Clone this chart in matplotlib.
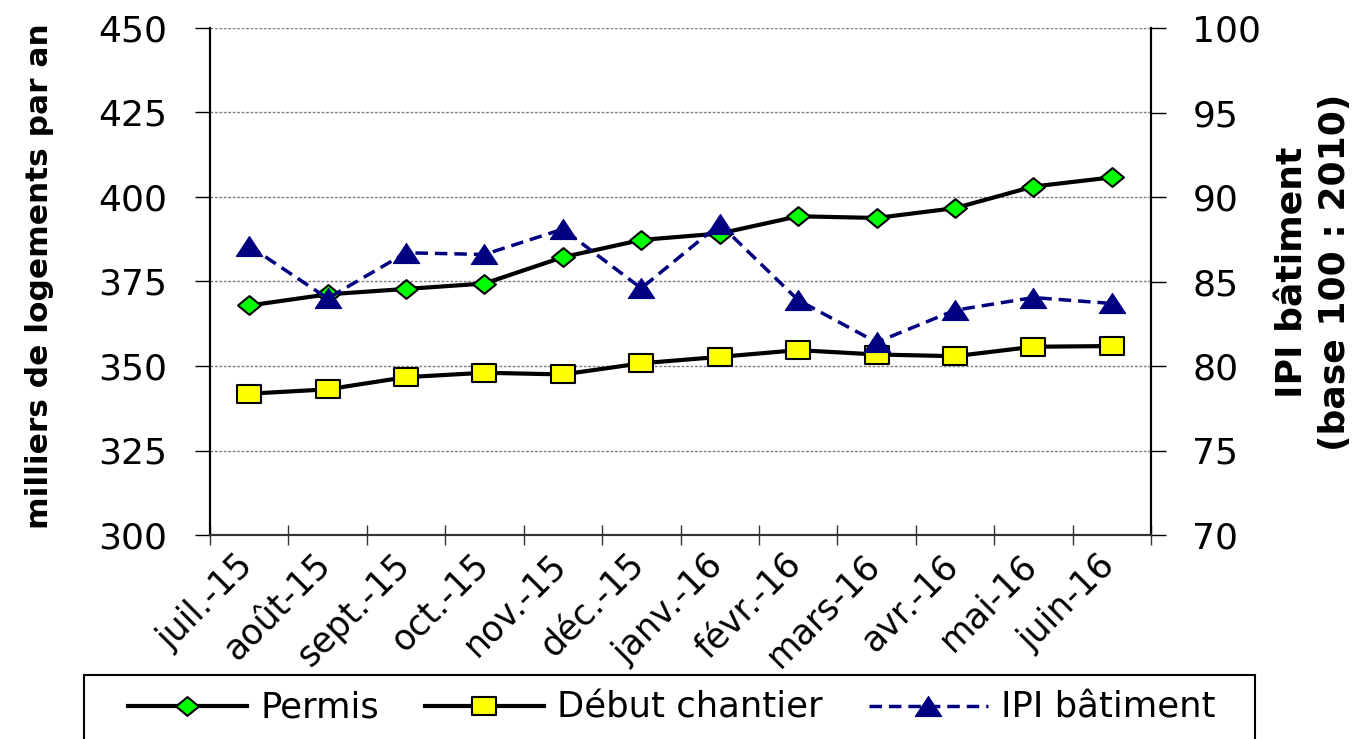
import numpy as np
import matplotlib
matplotlib.use("Agg")
import matplotlib.pyplot as plt
from matplotlib.path import Path
from matplotlib.lines import Line2D
from matplotlib.patches import Rectangle
from matplotlib.transforms import ScaledTranslation

# ---------------- data ----------------
months = ["juil.-15", "août-15", "sept.-15", "oct.-15", "nov.-15", "déc.-15",
          "janv.-16", "févr.-16", "mars-16", "avr.-16", "mai-16", "juin-16"]
permis = [367.9, 371.2, 372.8, 374.4, 382.2, 387.3, 389.2, 394.3, 393.8, 396.7, 403.1, 405.8]
debut_chantier = [341.8, 343.1, 346.7, 348.0, 347.5, 350.8, 352.7, 354.7, 353.4, 352.9, 355.7, 355.9]
ipi_batiment = [87.1, 84.0, 86.7, 86.6, 88.1, 84.6, 88.4, 83.9, 81.4, 83.3, 84.05, 83.7]
left_ticks = [300, 325, 350, 375, 400, 425, 450]
right_ticks = [70, 75, 80, 85, 90, 95, 100]
series_names = ["Permis", "Début chantier", "IPI bâtiment"]

# ---------------- style ----------------
plt.rcParams['font.family'] = ['DejaVu Sans']
W, H = 1369, 739
fig = plt.figure(figsize=(W / 100, H / 100), dpi=100)
ax = fig.add_axes([210 / W, 1 - 535 / H, (1151 - 210) / W, (535 - 28) / H])
ax2 = ax.twinx()

diamond = Path([(0, 0.82), (1, 0), (0, -0.82), (-1, 0), (0, 0.82)], closed=True)
square = Path([(-1, -0.77), (1, -0.77), (1, 0.77), (-1, 0.77), (-1, -0.77)], closed=True)
tri = Path([(0, 0.76), (-1, -0.76), (1, -0.76), (0, 0.76)], closed=True)

x = np.arange(len(months))
st_permis = dict(color='black', lw=3, marker=diamond, ms=16.5, mfc='#00FF00',
                 mec='black', mew=1.5)
st_debut = dict(color='black', lw=3, marker=square, ms=17.5, mfc='#FFFF00',
                mec='black', mew=1.5)
st_ipi = dict(color='#000080', lw=2.5, dashes=(3.6, 2.0), marker=tri, ms=19,
              mfc='#000080', mec='#000080', mew=0.8)

ax.plot(x, permis, zorder=3, **st_permis)
ax.plot(x, debut_chantier, zorder=3, **st_debut)
ax2.plot(x, ipi_batiment, zorder=4, **st_ipi)

ax.set_xlim(-0.5, len(months) - 0.5)
ax.set_ylim(300, 450)
ax2.set_ylim(70, 100)
ax.set_yticks(left_ticks)
ax2.set_yticks(right_ticks)
ax.set_yticklabels([str(v) for v in left_ticks])
ax2.set_yticklabels([str(v) for v in right_ticks])

ax.set_xticks(x)
ax.set_xticklabels(months, rotation=45, ha='right', va='top', rotation_mode='anchor')
ax.set_xticks(np.arange(len(months) + 1) - 0.5, minor=True)
ax.tick_params(axis='x', which='major', length=0, pad=9, labelsize=25)
ax.tick_params(axis='x', which='minor', direction='inout', length=14.4, width=1, color='#333333')
ax.tick_params(axis='y', direction='out', length=10.8, width=1, pad=20, labelsize=26)
ax2.tick_params(axis='y', direction='out', length=10.8, width=1, pad=19, labelsize=26)
shift = ScaledTranslation(-14 / 100, 0, fig.dpi_scale_trans)
for lab in ax.get_xticklabels():
    lab.set_transform(lab.get_transform() + shift)

ax.yaxis.grid(True, color='#808080', linestyle=(0, (2, 1.2)), lw=1)
ax.set_axisbelow(True)
for a in (ax, ax2):
    a.spines['top'].set_visible(False)
    a.spines['left'].set_linewidth(1.5)
    a.spines['right'].set_linewidth(1.5)
    a.spines['bottom'].set_linewidth(1.5)
    a.spines['bottom'].set_color('#333333')
    a.patch.set_visible(False)

fig.text(40 / W, 1 - 276 / H, "milliers de logements par an", rotation=90,
         ha='center', va='center', fontweight='bold', fontsize=22.5)
fig.text(1314 / W, 1 - 272 / H, "IPI bâtiment\n(base 100 : 2010)", rotation=90,
         ha='center', va='center', fontweight='bold', fontsize=26,
         linespacing=1.3, multialignment='center')

# legend box (frame drawn separately to match the reference extent)
fig.patches.append(Rectangle((84 / W, 1 - 770 / H), (1255 - 84) / W, (770 - 675) / H,
                             transform=fig.transFigure, fill=False, ec='black', lw=1.5))
handles = [Line2D([], [], **st_permis), Line2D([], [], **st_debut), Line2D([], [], **st_ipi)]
leg = fig.legend(handles, series_names, loc='upper left',
                 bbox_to_anchor=(112 / W, 1 - 675 / H), ncol=3, fontsize=25.5,
                 frameon=False, handlelength=3.36,
                 handletextpad=0.37, columnspacing=1.3, borderpad=0.45, borderaxespad=0)

fig.savefig("out.png", dpi=100)
